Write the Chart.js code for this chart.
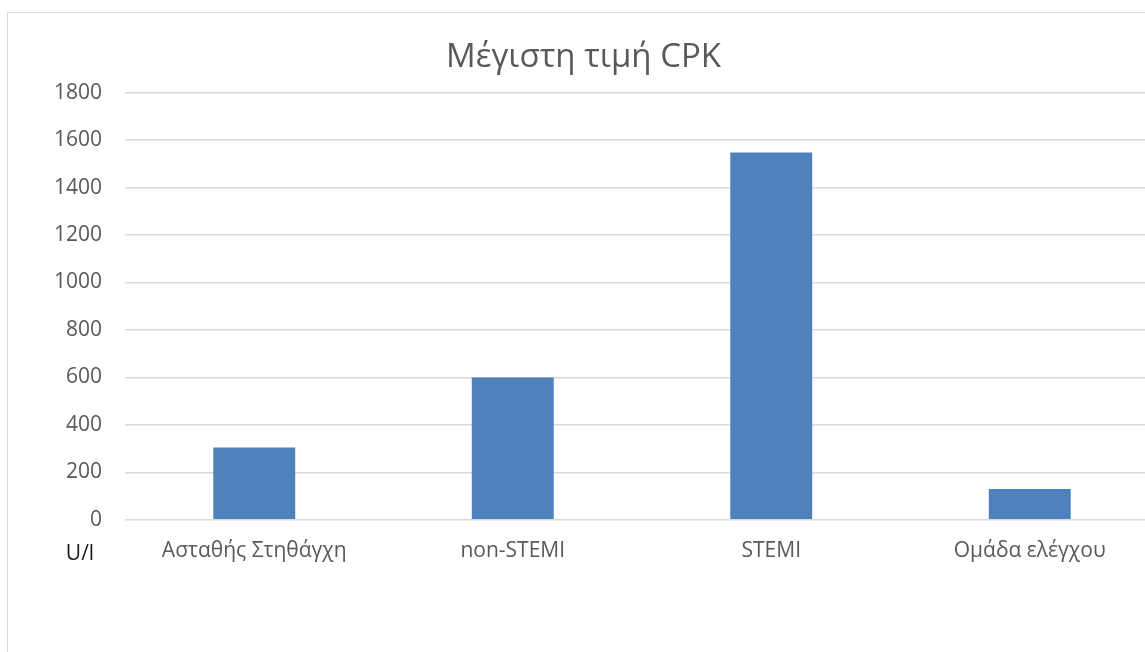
<!DOCTYPE html>
<html>
<head>
<meta charset="utf-8">
<script src="https://cdn.jsdelivr.net/npm/chart.js@4"></script>
<style>
  html, body { margin: 0; padding: 0; background: #fff; overflow: hidden; width: 1145px; height: 652px; }
  #frame { position: absolute; left: 7px; top: 12px; width: 1200px; height: 700px; border: 1px solid #d9d9d9; background: #fff; }
  canvas { display: block; }
</style>
</head>
<body>
<div id="frame"><canvas id="c" width="1200" height="700"></canvas></div>
<script>
const titleText = 'Μέγιστη τιμή CPK';
const categories = ['Ασταθής Στηθάγχη', 'non-STEMI', 'STEMI', 'Ομάδα ελέγχου'];
const maxCPK = [305, 600, 1548, 130];
const yMin = 0, yMax = 1800, yStep = 200;
const unitLabel = 'U/l';

const FONT = "'Open Sans', 'Noto Sans', sans-serif";

const unitPlugin = {
  id: 'unitLabel',
  afterDraw(chart) {
    const ctx = chart.ctx, a = chart.chartArea;
    ctx.save();
    ctx.font = '21px ' + FONT;
    ctx.fillStyle = '#1a1a1a';
    ctx.textAlign = 'center';
    ctx.textBaseline = 'middle';
    ctx.fillText(unitLabel, a.left - 45, a.bottom + 34);
    ctx.restore();
  }
};

new Chart(document.getElementById('c'), {
  type: 'bar',
  data: {
    labels: categories,
    datasets: [{
      data: maxCPK,
      backgroundColor: '#4f81bd',
      borderWidth: 0,
      barPercentage: 0.317,
      categoryPercentage: 1.0
    }]
  },
  options: {
    responsive: false,
    animation: false,
    layout: { padding: { left: 0, right: 49, top: 0, bottom: 130 } },
    plugins: {
      legend: { display: false },
      tooltip: { enabled: false },
      title: {
        display: true,
        text: titleText,
        color: '#595959',
        font: { family: FONT, size: 33, weight: 'normal' },
        padding: { top: 25, bottom: 15 }
      }
    },
    scales: {
      x: {
        grid: { display: false, drawTicks: false },
        border: { display: false },
        ticks: { color: '#595959', font: { family: FONT, size: 21 }, padding: 19, maxRotation: 0 }
      },
      y: {
        min: yMin, max: yMax,
        afterFit(scale) { scale.width = 117; },
        grid: { color: '#d9d9d9', lineWidth: 1.5, drawTicks: false },
        border: { display: false },
        ticks: {
          stepSize: yStep, color: '#595959', font: { family: FONT, size: 21 }, padding: 23,
          callback: (v) => String(v)
        }
      }
    }
  },
  plugins: [unitPlugin]
});
</script>
</body>
</html>
